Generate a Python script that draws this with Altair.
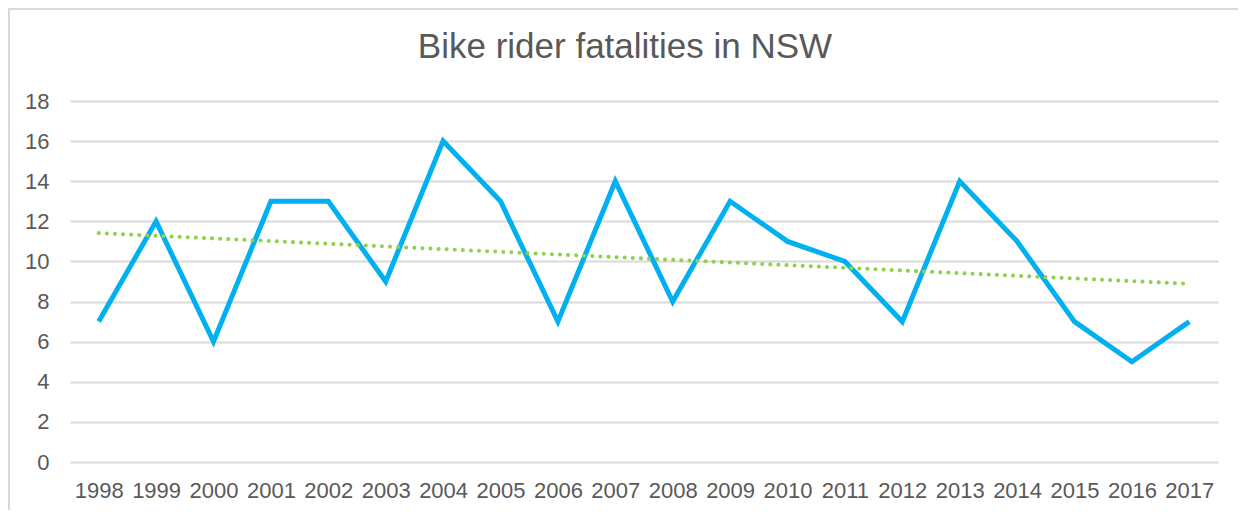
import altair as alt
import pandas as pd

years = ["1998", "1999", "2000", "2001", "2002", "2003", "2004", "2005", "2006", "2007",
         "2008", "2009", "2010", "2011", "2012", "2013", "2014", "2015", "2016", "2017"]
fatalities = [7, 12, 6, 13, 13, 9, 16, 13, 7, 14, 8, 13, 11, 10, 7, 14, 11, 7, 5, 7]
y_ticks = [0, 2, 4, 6, 8, 10, 12, 14, 16, 18]

df = pd.DataFrame({"year": years, "value": fatalities, "idx": list(range(len(years)))})

FONT = "Liberation Sans"
GREY = "#595959"

x_enc = alt.X("year:O", sort=years, title=None,
              scale=alt.Scale(paddingInner=0, paddingOuter=0.5),
              axis=alt.Axis(labelAngle=0, labelFontSize=22, labelColor=GREY, labelFont=FONT,
                            ticks=False, domain=False, labelPadding=18, grid=False))
y_scale = alt.Scale(domain=[0, 18], nice=False)
y_enc = alt.Y("value:Q", title=None, scale=y_scale,
              axis=alt.Axis(values=y_ticks, labelFontSize=22, labelColor=GREY, labelFont=FONT,
                            ticks=False, domain=False, labelPadding=21,
                            gridColor="#d9d9d9", gridWidth=2))

border = alt.Chart(pd.DataFrame({"k": [0]})).mark_rect(
    fill="transparent", stroke="#d9d9d9", strokeWidth=2
).encode(
    x=alt.value(-61), x2=alt.value(1260), y=alt.value(-92), y2=alt.value(440)
)

line = alt.Chart(df).mark_line(color="#00B0F0", strokeWidth=5, strokeJoin="miter").encode(
    x=x_enc, y=y_enc
)

trend_pts = alt.Chart(df).transform_regression("idx", "value").transform_calculate(
    year="datum.idx == 0 ? '1998' : '2017'"
).mark_line(color="#92D050", strokeWidth=4, strokeDash=[0.1, 8], strokeCap="round").encode(
    x=alt.X("year:O", sort=years),
    y=alt.Y("value:Q", scale=y_scale)
)

chart = alt.layer(border, line, trend_pts).properties(
    width=1148, height=361,
    title=alt.TitleParams("Bike rider fatalities in NSW", fontSize=35, font=FONT,
                          color=GREY, fontWeight="normal", anchor="middle", offset=0,
                          baseline="alphabetic", dx=-19, dy=85),
    autosize=alt.AutoSizeParams(type="none"),
    padding={"left": 62, "top": 93, "right": 20, "bottom": 48},
).configure_view(stroke=None)

chart.save("out.html", embed_options={"renderer": "svg", "actions": False})
